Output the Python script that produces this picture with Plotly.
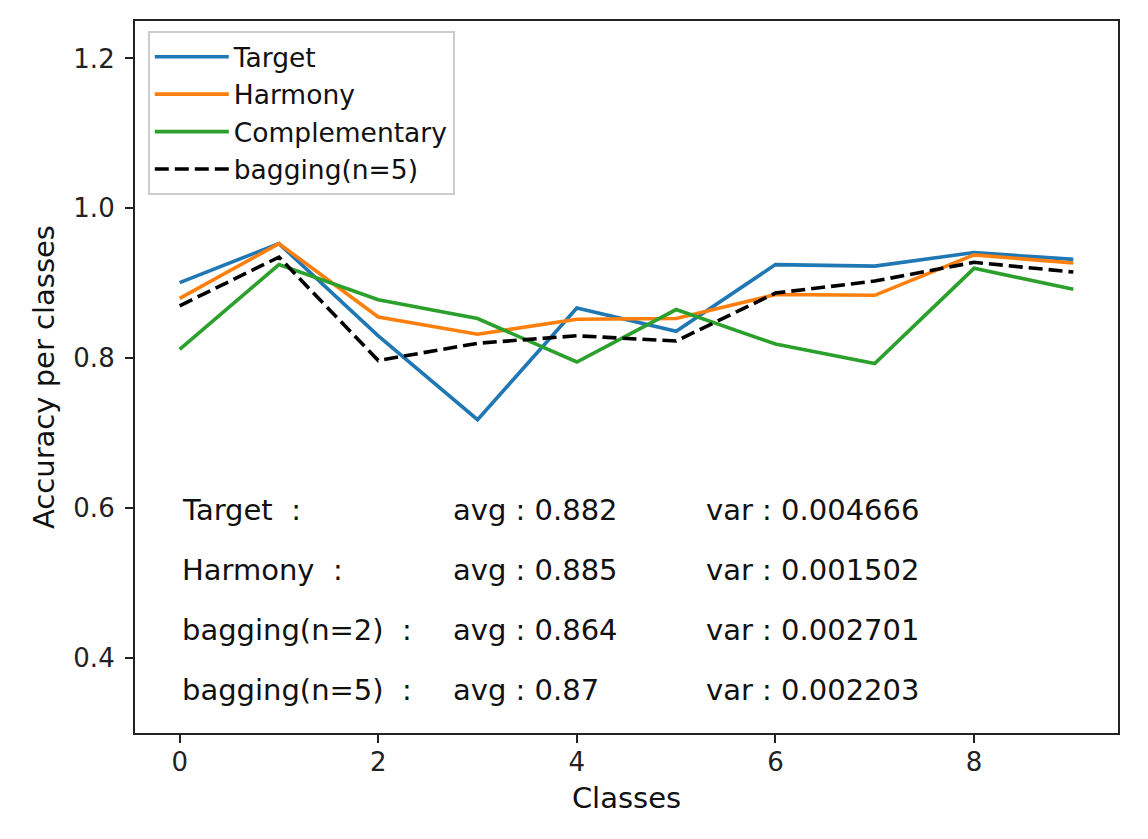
import plotly.graph_objects as go

# accuracy per class
classes = [0, 1, 2, 3, 4, 5, 6, 7, 8, 9]
target = [0.901, 0.953, 0.830, 0.718, 0.867, 0.836, 0.925, 0.923, 0.941, 0.932]
harmony = [0.880, 0.953, 0.855, 0.832, 0.852, 0.853, 0.885, 0.884, 0.938, 0.927]
complementary = [0.812, 0.925, 0.878, 0.853, 0.795, 0.865, 0.819, 0.793, 0.920, 0.892]
bagging5 = [0.870, 0.935, 0.797, 0.820, 0.830, 0.823, 0.887, 0.903, 0.928, 0.915]

# summary text shown inside the plot
stat_names = ["Target", "Harmony", "bagging(n=2)", "bagging(n=5)"]
stat_avg = ["0.882", "0.885", "0.864", "0.87"]
stat_var = ["0.004666", "0.001502", "0.002701", "0.002203"]

FONT = "DejaVu Sans"
TICK_FS = 26
LEG_FS = 26.5
TXT_FS = 29

fig = go.Figure()
series = [
    ("Target", target, "#1f77b4", "solid"),
    ("Harmony", harmony, "#ff7f0e", "solid"),
    ("Complementary", complementary, "#2ca02c", "solid"),
    ("bagging(n=5)", bagging5, "black", "14px,6px"),
]
for name, ys, col, dash in series:
    fig.add_trace(go.Scatter(x=classes, y=ys, mode="lines", name=name,
                             line=dict(color=col, width=3.6, dash=dash)))

# text rows (y in data units)
row_y = [0.597, 0.517, 0.437, 0.357]
for name, a, v, y in zip(stat_names, stat_avg, stat_var, row_y):
    fig.add_annotation(x=0.0, y=y, text=name + "\u00a0\u00a0:", xanchor="left",
                       yanchor="middle", showarrow=False)
    fig.add_annotation(x=2.73, y=y, text="avg : " + a, xanchor="left",
                       yanchor="middle", showarrow=False)
    fig.add_annotation(x=5.28, y=y, text="var : " + v, xanchor="left",
                       yanchor="middle", showarrow=False)

axis_style = dict(showline=True, linecolor="#222", linewidth=2.2, mirror=True,
                  ticks="outside", ticklen=8, tickwidth=2.2, tickcolor="#222",
                  showgrid=False, zeroline=False,
                  tickfont=dict(size=TICK_FS, color="#222"))

fig.update_xaxes(range=[-0.45, 9.45], tickvals=[0, 2, 4, 6, 8],
                 ticklabelstandoff=-3,
                 title=dict(text="Classes", font=dict(size=TXT_FS), standoff=11),
                 **axis_style)
fig.update_yaxes(range=[0.3, 1.25], tickvals=[0.4, 0.6, 0.8, 1.0, 1.2],
                 tickformat=".1f", ticklabelstandoff=5,
                 title=dict(text="Accuracy per classes", font=dict(size=TXT_FS), standoff=10),
                 **axis_style)

# page body adds an 8px offset, margins account for it
fig.update_layout(
    width=1148, height=839,
    margin=dict(l=127, r=38, t=11, b=114),
    plot_bgcolor="white", paper_bgcolor="white",
    font=dict(family=FONT, size=TXT_FS, color="#111"),
    legend=dict(x=0.013, y=0.986, xanchor="left", yanchor="top",
                bgcolor="rgba(255,255,255,0.8)", bordercolor="#cccccc",
                borderwidth=2, font=dict(size=LEG_FS), tracegroupgap=0,
                itemwidth=74),
    showlegend=True,
)

fig.write_html("out.html")
